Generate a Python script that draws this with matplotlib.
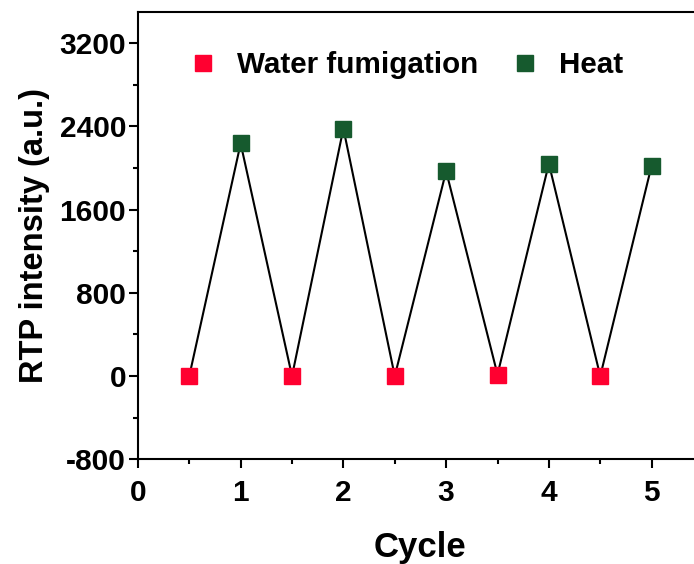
import matplotlib
matplotlib.use('AGG')
import matplotlib.pyplot as plt
from matplotlib.ticker import MultipleLocator

# data
water_x = [0.5, 1.5, 2.5, 3.5, 4.5]
water_y = [0, 0, 0, 15, 0]
heat_x = [1, 2, 3, 4, 5]
heat_y = [2236, 2380, 1970, 2042, 2024]

red = '#ff0030'
green = '#165a2e'

plt.rcParams['font.family'] = 'Liberation Sans'
plt.rcParams['font.weight'] = 'bold'
plt.rcParams['axes.unicode_minus'] = False

fig = plt.figure(figsize=(6.94, 5.64), dpi=100)
ax = fig.add_axes([137.9 / 694, 104.7 / 564, (703 - 137.9) / 694, 447.3 / 564])

# zig-zag line through all points in order
xs, ys = [], []
for a, b, c, d in zip(water_x, water_y, heat_x, heat_y):
    xs += [a, c]
    ys += [b, d]
ax.plot(xs, ys, color='black', lw=1.5, zorder=1)
ax.plot(water_x, water_y, 's', color=red, ms=12.2, mec=red, label='Water fumigation', zorder=2)
ax.plot(heat_x, heat_y, 's', color=green, ms=12.2, mec=green, label='Heat', zorder=2)

ax.set_xlim(0, 5.5)
ax.set_ylim(-800, 3500)
ax.xaxis.set_major_locator(MultipleLocator(1))
ax.xaxis.set_minor_locator(MultipleLocator(0.5))
ax.yaxis.set_minor_locator(MultipleLocator(400))
ax.set_yticks([-800, 0, 800, 1600, 2400, 3200])

for s in ['left', 'bottom', 'top']:
    ax.spines[s].set_linewidth(1.5)
ax.spines['right'].set_visible(False)
ax.tick_params(which='major', direction='out', length=6.5, width=1.5, labelsize=21.5)
ax.tick_params(which='minor', direction='out', length=3.3, width=1.5)
ax.tick_params(axis='x', pad=8)
ax.tick_params(axis='y', pad=2)

ax.set_xlabel('Cycle', fontsize=25, fontweight='bold', labelpad=17)
ax.set_ylabel('RTP intensity (a.u.)', fontsize=23.5, fontweight='bold', labelpad=7)

ax.legend(loc='center left', bbox_to_anchor=(0.095, 0.881), ncol=2, frameon=False,
          fontsize=21.3, handlelength=0.8, handletextpad=0.75, columnspacing=1.15,
          borderaxespad=0, borderpad=0)

plt.savefig('out.png', dpi=100)
